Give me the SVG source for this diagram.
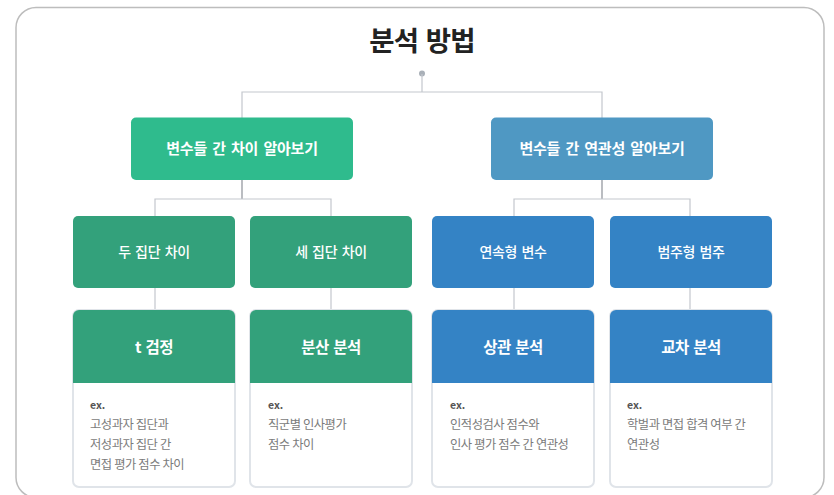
<svg xmlns="http://www.w3.org/2000/svg" width="834" height="495" viewBox="0 0 834 495">
<style>
text{font-family:"Noto Sans CJK KR","Noto Sans",sans-serif}
.title{font-size:27.5px;font-weight:700;fill:#222;letter-spacing:-0.8px;word-spacing:2px}
.top{font-size:15px;font-weight:700;fill:#fff;letter-spacing:-0.2px;word-spacing:2px}
.mid{font-size:14px;font-weight:500;fill:#fff;letter-spacing:-0.3px;word-spacing:1.5px}
.hdr{font-size:15.5px;font-weight:700;fill:#fff;letter-spacing:-0.5px;word-spacing:1.5px}
.ex{font-size:10.5px;font-weight:700;fill:#555}
.body{font-size:12.3px;fill:#7b7b7b;letter-spacing:-0.5px;word-spacing:0.3px}
.card{fill:#fff;stroke:#E0E4E9;stroke-width:2}
.ln{fill:none;stroke:#C3C7CD;stroke-width:1.2}
.dk{fill:none;stroke:#8D9198;stroke-width:1.2}
</style>
<rect x="16" y="7.5" width="808" height="490" rx="20" fill="#fff" stroke="#BDBDBD" stroke-width="1.5"/>
<g id="title"><text class="title" x="422" y="51" text-anchor="middle">분석 방법</text></g>
<g id="connectors">
<circle cx="422" cy="73.5" r="3" fill="#A9B0B8"/>
<path class="ln" d="M422 74V92M242 118V92H602V118"/>
<path class="dk" d="M242 180V199M602 180V199"/>
<path class="ln" d="M155 216V199H331V216M514 216V199H690V216"/>
<path class="ln" d="M155 288V310M331 288V310M514 288V310M690 288V310"/>
</g>
<g id="n-diff"><rect x="131" y="117.5" width="222" height="62.5" rx="5" fill="#2FBB8D"/><text class="top" x="242" y="154" text-anchor="middle">변수들 간 차이 알아보기</text></g>
<g id="n-corr"><rect x="491" y="117.5" width="222" height="62.5" rx="5" fill="#4F98C3"/><text class="top" x="602" y="154" text-anchor="middle">변수들 간 연관성 알아보기</text></g>
<g id="n-two"><rect x="73" y="216" width="162" height="72" rx="5" fill="#33A17B"/><text class="mid" x="154" y="257" text-anchor="middle">두 집단 차이</text></g>
<g id="n-three"><rect x="250" y="216" width="162" height="72" rx="5" fill="#33A17B"/><text class="mid" x="331" y="257" text-anchor="middle">세 집단 차이</text></g>
<g id="n-cont"><rect x="432" y="216" width="162" height="72" rx="5" fill="#3483C5"/><text class="mid" x="513" y="257" text-anchor="middle">연속형 변수</text></g>
<g id="n-cat"><rect x="610" y="216" width="162" height="72" rx="5" fill="#3483C5"/><text class="mid" x="691" y="257" text-anchor="middle">범주형 범주</text></g>
<g id="c-ttest">
<rect class="card" x="73" y="310" width="162" height="177" rx="6"/>
<path d="M73 316a6 6 0 0 1 6-6h150a6 6 0 0 1 6 6v67H73z" fill="#33A17B"/>
<text class="hdr" x="154" y="352.5" text-anchor="middle">t 검정</text>
<text class="ex" x="90" y="409">ex.</text>
<text class="body" x="90" y="429">고성과자 집단과</text>
<text class="body" x="90" y="449">저성과자 집단 간</text>
<text class="body" x="90" y="469">면접 평가 점수 차이</text>
</g>
<g id="c-anova">
<rect class="card" x="250" y="310" width="162" height="177" rx="6"/>
<path d="M250 316a6 6 0 0 1 6-6h150a6 6 0 0 1 6 6v67H250z" fill="#33A17B"/>
<text class="hdr" x="331" y="352.5" text-anchor="middle">분산 분석</text>
<text class="ex" x="268" y="409">ex.</text>
<text class="body" x="268" y="429">직군별 인사평가</text>
<text class="body" x="268" y="449">점수 차이</text>
</g>
<g id="c-corr">
<rect class="card" x="432" y="310" width="162" height="177" rx="6"/>
<path d="M432 316a6 6 0 0 1 6-6h150a6 6 0 0 1 6 6v67H432z" fill="#3483C5"/>
<text class="hdr" x="513" y="352.5" text-anchor="middle">상관 분석</text>
<text class="ex" x="450" y="409">ex.</text>
<text class="body" x="450" y="429">인적성검사 점수와</text>
<text class="body" x="450" y="449">인사 평가 점수 간 연관성</text>
</g>
<g id="c-cross">
<rect class="card" x="610" y="310" width="162" height="177" rx="6"/>
<path d="M610 316a6 6 0 0 1 6-6h150a6 6 0 0 1 6 6v67H610z" fill="#3483C5"/>
<text class="hdr" x="691" y="352.5" text-anchor="middle">교차 분석</text>
<text class="ex" x="627" y="409">ex.</text>
<text class="body" x="627" y="429">학벌과 면접 합격 여부 간</text>
<text class="body" x="627" y="449">연관성</text>
</g>
</svg>
